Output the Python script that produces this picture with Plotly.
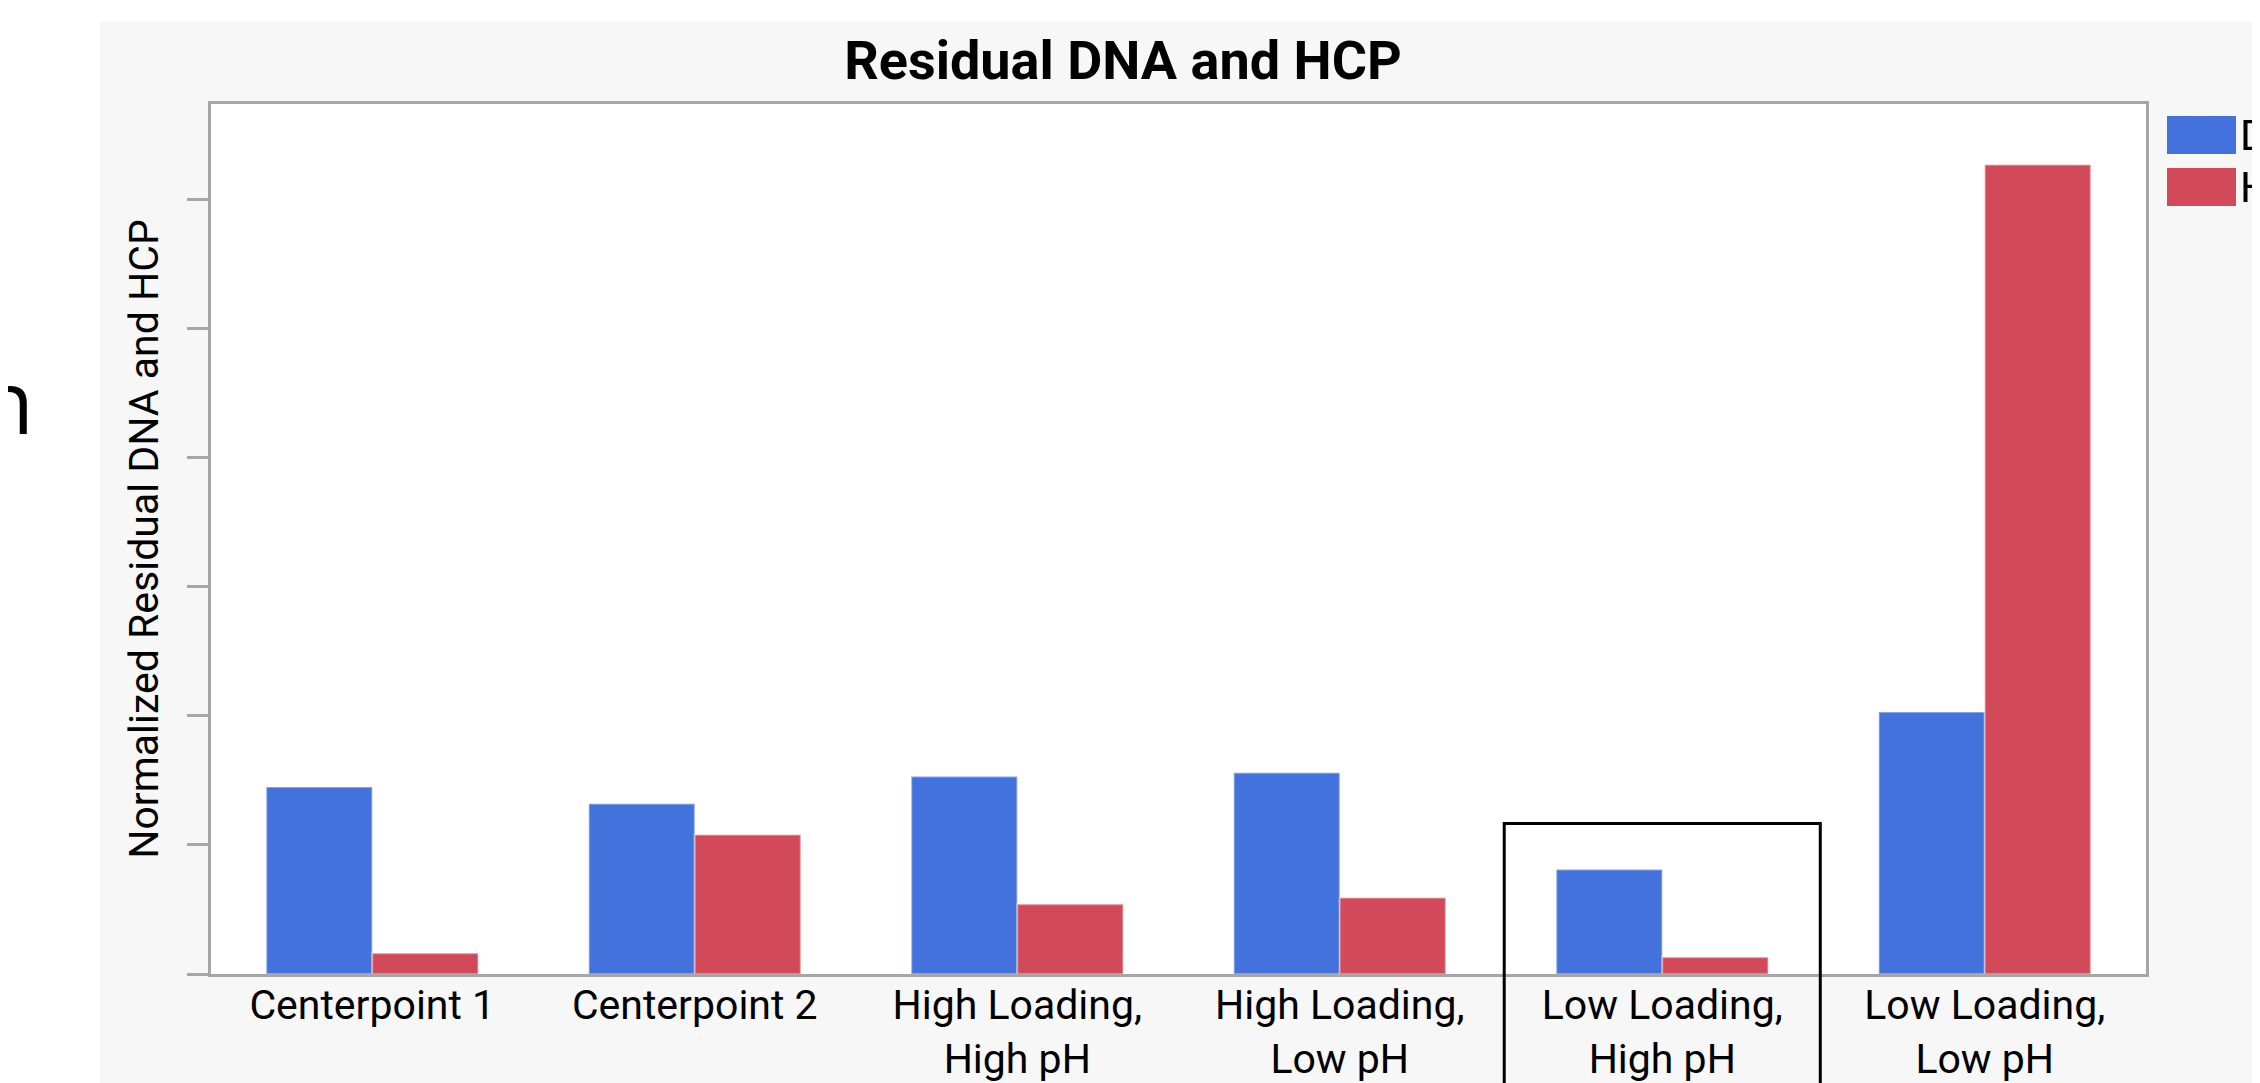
import plotly.graph_objects as go

# ---- data ----
categories = ["Centerpoint 1", "Centerpoint 2", "High Loading,<br>High pH",
              "High Loading,<br>Low pH", "Low Loading,<br>High pH", "Low Loading,<br>Low pH"]
dna_values = [1.45, 1.32, 1.53, 1.56, 0.81, 2.03]
hcp_values = [0.16, 1.08, 0.54, 0.59, 0.13, 6.27]
series_names = ["DNA", "HCP"]
y_tickvals = [0, 1, 2, 3, 4, 5, 6]

BLUE = "#4472DC"
RED = "#D24A59"
AXIS_GRAY = "#A6A6A6"
PANEL = "#F7F7F7"
FONT = "Roboto"

# screen geometry (page body adds an 8px offset)
OFF = 8
SCREEN_W, SCREEN_H = 2260, 1083
W, H = SCREEN_W - OFF, SCREEN_H - OFF
P_LEFT, P_RIGHT, P_TOP, P_BOTTOM = 211, 2146, 104, 974
ML = P_LEFT - OFF
MR = SCREEN_W - P_RIGHT
MT = P_TOP - OFF
MB = SCREEN_H - P_BOTTOM
PW = P_RIGHT - P_LEFT
PH = P_BOTTOM - P_TOP


def px_x(p):
    return (p - P_LEFT) / PW


def px_y(p):
    return (P_BOTTOM - p) / PH


fig = go.Figure()
fig.add_trace(go.Bar(x=categories, y=dna_values, name=series_names[0],
                     marker=dict(color=BLUE, line=dict(color="rgba(255,255,255,0.35)", width=2))))
fig.add_trace(go.Bar(x=categories, y=hcp_values, name=series_names[1],
                     marker=dict(color=RED, line=dict(color="rgba(255,255,255,0.35)", width=2))))

shapes = [
    # grey panel background
    dict(type="rect", xref="paper", yref="paper", x0=px_x(100), x1=2.0,
         y0=-1.0, y1=px_y(22), fillcolor=PANEL, line=dict(width=0), layer="below"),
    # white plot area
    dict(type="rect", xref="paper", yref="paper", x0=0, x1=1, y0=0, y1=1,
         fillcolor="white", line=dict(width=0), layer="below"),
    # legend swatches
    dict(type="rect", xref="paper", yref="paper", x0=px_x(2167), x1=px_x(2236),
         y0=px_y(154), y1=px_y(116), fillcolor=BLUE, line=dict(width=0)),
    dict(type="rect", xref="paper", yref="paper", x0=px_x(2167), x1=px_x(2236),
         y0=px_y(206), y1=px_y(168), fillcolor=RED, line=dict(width=0)),
    # highlight box around "Low Loading, High pH"
    dict(type="rect", xref="x", yref="paper", x0=4 - 0.49, x1=4 + 0.49,
         y0=-0.5, y1=px_y(823.5), line=dict(color="black", width=3),
         fillcolor="rgba(0,0,0,0)", layer="above"),
]

annotations = [
    dict(text=series_names[0], xref="paper", yref="paper", x=px_x(2238), y=px_y(135),
         xanchor="left", yanchor="middle", showarrow=False,
         font=dict(family=FONT, size=42, color="black")),
    dict(text=series_names[1], xref="paper", yref="paper", x=px_x(2238), y=px_y(187),
         xanchor="left", yanchor="middle", showarrow=False,
         font=dict(family=FONT, size=42, color="black")),
    dict(text="n", xref="paper", yref="paper", x=px_x(36), y=px_y(400),
         xanchor="right", yanchor="middle", showarrow=False,
         font=dict(family="Liberation Sans Narrow, Open Sans", size=88, color="black")),
]

fig.update_layout(
    width=W, height=H,
    margin=dict(l=ML, r=MR, t=MT, b=MB, pad=0, autoexpand=False),
    paper_bgcolor="white", plot_bgcolor="white",
    barmode="group", bargap=0.343, bargroupgap=0,
    showlegend=False,
    title=dict(text="<b>Residual DNA and HCP</b>", x=(1123 - OFF) / W, xanchor="center",
               y=1 - (60 - OFF) / H, yanchor="middle", yref="container",
               font=dict(family=FONT, size=54, color="black")),
    font=dict(family=FONT, size=41, color="black"),
    shapes=shapes, annotations=annotations,
)

fig.update_xaxes(
    type="category", showline=True, linecolor=AXIS_GRAY, linewidth=3, mirror=True,
    ticks="", showgrid=False, zeroline=False, automargin=False,
    tickfont=dict(family=FONT, size=41, color="black"), ticklabelstandoff=-7,
)
fig.update_yaxes(
    range=[0, PH / 129.05], tickvals=y_tickvals, showticklabels=False,
    ticks="outside", ticklen=21, tickwidth=3, tickcolor=AXIS_GRAY,
    showline=True, linecolor=AXIS_GRAY, linewidth=3, mirror=True,
    showgrid=False, zeroline=False, automargin=False,
    title=dict(text="Normalized Residual DNA and HCP", standoff=16,
               font=dict(family=FONT, size=41, color="black")),
)

fig.write_html("out.html")
